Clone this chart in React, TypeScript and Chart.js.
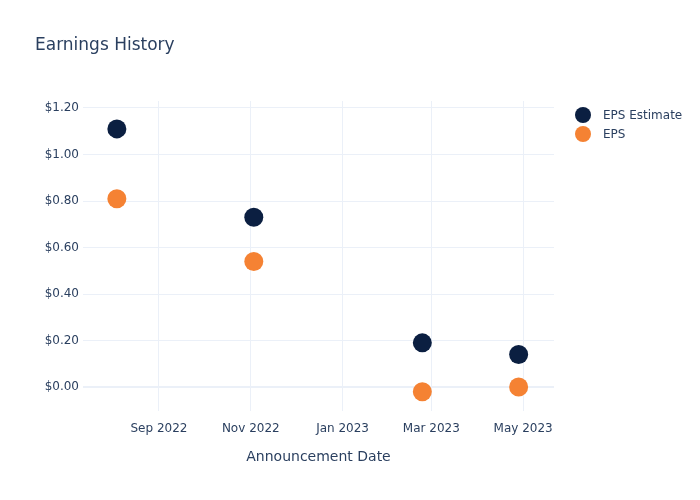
import React, { useEffect, useRef } from "react";
import { Chart, registerables } from "chart.js";

Chart.register(...registerables);

const announcementDates = ["2022-08-04", "2022-11-03", "2023-02-23", "2023-04-28"];
const epsEstimate = [1.11, 0.73, 0.19, 0.14];
const epsActual = [0.81, 0.54, -0.02, 0.0];
const xTickDates = ["2022-09-01", "2022-11-01", "2023-01-01", "2023-03-01", "2023-05-01"];
const xTickLabels = ["Sep 2022", "Nov 2022", "Jan 2023", "Mar 2023", "May 2023"];
const yTickValues = [0, 0.2, 0.4, 0.6, 0.8, 1.0, 1.2];
const xRange = ["2022-07-12T12:00:00Z", "2023-05-21T12:00:00Z"];
const yRange = [-0.103, 1.23];

const FONT = "'DejaVu Sans', Verdana, sans-serif";
const TEXT = "#2a3f5f";
const GRID = "#ebf0f8";
const NAVY = "#0b1f41";
const ORANGE = "#f58233";

const ts = (d: string) => Date.parse(d.length === 10 ? d + "T00:00:00Z" : d);

const decorPlugin = {
  id: "decor",
  afterDraw(chart: any) {
    const ctx = chart.ctx;
    ctx.save();
    ctx.fillStyle = TEXT;
    ctx.font = `17px ${FONT}`;
    ctx.textAlign = "left";
    ctx.textBaseline = "middle";
    ctx.fillText("Earnings History", 35, 46);
    chart.data.datasets.forEach((ds: any, i: number) => {
      const y = 115 + i * 19;
      ctx.beginPath();
      ctx.arc(583, y, 8, 0, Math.PI * 2);
      ctx.fillStyle = ds.backgroundColor;
      ctx.fill();
      ctx.fillStyle = TEXT;
      ctx.font = `12px ${FONT}`;
      ctx.fillText(ds.label, 603, y + 1);
    });
    ctx.restore();
  },
};

export default function App() {
  const ref = useRef<HTMLCanvasElement | null>(null);
  useEffect(() => {
    if (!ref.current) return;
    const chart = new Chart(ref.current, {
      type: "scatter",
      data: {
        datasets: [
          {
            label: "EPS Estimate",
            data: announcementDates.map((d, i) => ({ x: ts(d), y: epsEstimate[i] })),
            backgroundColor: NAVY,
            borderColor: NAVY,
            pointRadius: 9.5,
            borderWidth: 0,
          },
          {
            label: "EPS",
            data: announcementDates.map((d, i) => ({ x: ts(d), y: epsActual[i] })),
            backgroundColor: ORANGE,
            borderColor: ORANGE,
            pointRadius: 9.5,
            borderWidth: 0,
          },
        ],
      },
      options: {
        responsive: false,
        animation: false,
        layout: { padding: { top: 101, right: 146, left: 0, bottom: 0 } },
        plugins: {
          legend: { display: false },
          title: { display: false },
          tooltip: { enabled: false },
        },
        scales: {
          x: {
            type: "linear",
            min: ts(xRange[0]),
            max: ts(xRange[1]),
            afterBuildTicks: (scale: any) => {
              scale.ticks = xTickDates.map((d) => ({ value: ts(d) }));
            },
            afterFit: (scale: any) => {
              scale.height = 89;
            },
            ticks: {
              autoSkip: false,
              maxRotation: 0,
              padding: 11,
              color: TEXT,
              font: { family: FONT, size: 12 },
              callback: (_v: any, i: number) => xTickLabels[i],
            },
            grid: { color: GRID, drawTicks: false, lineWidth: 1 },
            border: { display: false },
            title: {
              display: true,
              text: "Announcement Date",
              color: TEXT,
              font: { family: FONT, size: 14 },
              padding: { top: 0, bottom: 34.6 },
            },
          },
          y: {
            type: "linear",
            min: yRange[0],
            max: yRange[1],
            afterBuildTicks: (scale: any) => {
              scale.ticks = yTickValues.map((v) => ({ value: v }));
            },
            afterFit: (scale: any) => {
              scale.width = 83;
            },
            ticks: {
              padding: 4,
              color: TEXT,
              font: { family: FONT, size: 12 },
              callback: (v: any) => "$" + Number(v).toFixed(2),
            },
            grid: {
              color: GRID,
              drawTicks: false,
              lineWidth: (c: any) => (c.tick && c.tick.value === 0 ? 2 : 1),
            },
            border: { display: false },
          },
        },
      },
      plugins: [decorPlugin],
    });
    return () => chart.destroy();
  }, []);
  return (
    <div style={{ position: "fixed", left: 0, top: 0, width: 700, height: 500, background: "#fff" }}>
      <canvas ref={ref} width={700} height={500} style={{ display: "block" }} />
    </div>
  );
}
